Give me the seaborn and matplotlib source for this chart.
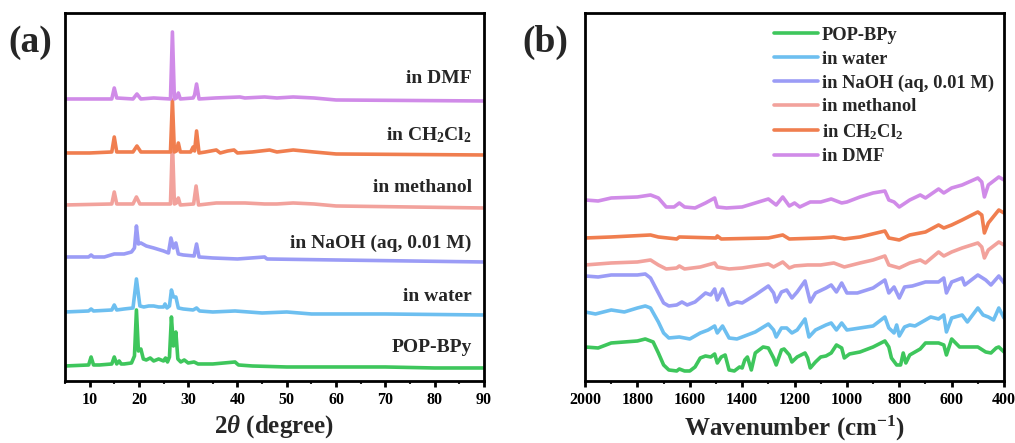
import matplotlib
matplotlib.use("Agg")
import matplotlib.pyplot as plt
from matplotlib.ticker import MultipleLocator
import seaborn as sns

# ---------------- data ----------------
names = ["POP-BPy", "in water", "in NaOH (aq, 0.01 M)", "in methanol",
         "in CH$\\mathregular{_2}$Cl$\\mathregular{_2}$", "in DMF"]
colors = ["#3ec65c", "#6dbff0", "#9b9cf6", "#f2a29c", "#f07e4f", "#d08be8"]

# (a) PXRD, 2theta (degree) / intensity (a.u., stacked)
xrd_pop_x = [5, 9.8, 10.3, 10.8, 12, 14.5, 15.0, 15.5, 16.0, 16.4, 17, 18.5, 19.1, 19.5, 19.9, 20.4, 20.9,
             21.5, 22.3, 23, 24, 25, 25.4, 25.8, 26.2, 26.6, 27.0, 27.5, 27.9, 28.5, 29.2, 30, 31.2, 32, 35,
             39.5, 40.2, 43, 50, 60, 70, 80, 90]
xrd_pop_y = [15, 16, 24, 16, 16, 17, 24, 17, 20, 17, 17, 18, 25, 71, 30, 32, 22,
             21, 23, 20, 22, 20, 23, 19, 24, 64, 35, 49, 22, 19, 21, 18, 19, 17, 17,
             19, 16, 15, 14, 14, 14, 13, 13]
xrd_water_x = [5, 9.8, 10.3, 10.8, 14.5, 15.0, 15.5, 17, 18.8, 19.5, 20.2, 21, 22, 23, 24, 25, 25.3, 25.7,
               26.2, 26.6, 27.0, 27.5, 28, 29, 31.0, 31.7, 32.3, 35, 39.5, 45, 50, 55, 70, 90]
xrd_water_y = [69, 70, 72, 70, 71, 76, 71, 72, 73, 102, 75, 74, 75, 75, 74, 74, 77, 73,
               75, 91, 84, 84, 73, 72, 71, 73, 70, 69, 70, 68, 69, 67, 67, 66]
xrd_naoh_x = [5, 9.8, 10.3, 10.8, 13, 15.0, 17, 18.5, 19.1, 19.5, 19.9, 20.4, 21.5, 23, 25, 26.0, 26.5,
              27.0, 27.5, 28.0, 29, 31.2, 31.7, 32.2, 35, 40, 45.5, 46, 60, 75, 90]
xrd_naoh_y = [124, 124, 126, 124, 124, 127, 127, 129, 133, 155, 137, 138, 135, 133, 130, 128, 143,
              133, 138, 127, 126, 125, 137, 124, 123, 122, 124, 122, 121, 120, 119]
xrd_meoh_x = [5, 14.5, 15.0, 15.5, 18.8, 19.5, 20.2, 23, 26.4, 26.8, 27.2, 27.6, 28.0, 28.4, 31.1, 31.6,
              32.1, 35.7, 40.5, 41.5, 45.5, 48, 51.3, 55.5, 60, 90]
xrd_meoh_y = [176, 177, 189, 177, 177, 184, 177, 177, 177, 240, 177, 178, 183, 176, 177, 195,
              176, 178, 178, 178, 177, 177, 178, 177, 175, 173]
xrd_dcm_x = [5, 10, 14.5, 15.0, 15.5, 18.8, 19.6, 20.4, 23, 26.4, 26.8, 27.2, 27.6, 28.0, 28.4, 30.5, 31.0,
             31.3, 31.7, 32.2, 33.5, 35.7, 36.5, 38, 39.3, 40, 43, 46.5, 48, 51.3, 55.5, 60, 90]
xrd_dcm_y = [228, 228, 229, 244, 229, 229, 235, 229, 229, 229, 281, 229, 230, 238, 229, 229, 234,
             230, 250, 228, 229, 231, 228, 230, 231, 228, 229, 231, 229, 231, 229, 227, 226]
xrd_dmf_x = [5, 14.5, 15.0, 15.5, 18.8, 19.6, 20.4, 23, 26.4, 26.8, 27.2, 27.6, 28.0, 28.4, 31.0, 31.3,
             31.7, 32.2, 35.5, 40.5, 41.5, 45.5, 48, 51.3, 55.5, 60, 90]
xrd_dmf_y = [282, 282, 293, 283, 282, 287, 282, 283, 282, 349, 282, 283, 288, 282, 283, 286,
             297, 282, 283, 284, 283, 284, 283, 284, 283, 281, 280]

# (b) FTIR, wavenumber (cm-1) / transmittance (a.u., stacked)
ir_pop_x = [2000, 1950, 1900, 1800, 1770, 1740, 1720, 1700, 1680, 1650, 1640, 1620, 1600, 1580, 1560, 1540,
            1520, 1505, 1495, 1480, 1465, 1450, 1430, 1410, 1400, 1390, 1380, 1365, 1350, 1320, 1300, 1280,
            1270, 1250, 1240, 1220, 1210, 1190, 1160, 1150, 1140, 1120, 1100, 1080, 1060, 1040, 1020, 1010,
            990, 950, 900, 855, 840, 830, 810, 795, 785, 775, 760, 720, 700, 650, 630, 620, 610, 600, 570,
            540, 500, 470, 450, 430, 420, 400]
ir_pop_y = [34, 33, 38, 40, 42, 39, 28, 16, 11, 10, 12, 10, 10, 14, 23, 25,
            24, 27, 18, 24, 26, 11, 10, 14, 13, 21, 24, 11, 28, 34, 33, 23,
            16, 31, 32, 26, 19, 24, 28, 23, 13, 19, 24, 25, 28, 36, 33, 23,
            27, 29, 34, 40, 34, 23, 16, 16, 28, 18, 26, 32, 38, 38, 36, 26, 34, 42, 34,
            34, 34, 29, 28, 33, 34, 29]
ir_water_x = [2000, 1960, 1900, 1850, 1800, 1770, 1750, 1720, 1700, 1680, 1640, 1620, 1600, 1560, 1530,
              1505, 1495, 1475, 1450, 1420, 1400, 1350, 1300, 1280, 1270, 1250, 1230, 1210, 1190, 1160,
              1145, 1120, 1080, 1060, 1040, 1020, 1000, 950, 900, 855, 840, 820, 810, 800, 780, 760, 740,
              700, 680, 650, 630, 620, 600, 560, 540, 500, 480, 460, 440, 420, 400]
ir_water_y = [69, 67, 71, 69, 73, 75, 73, 59, 48, 43, 44, 43, 42, 48, 51,
              55, 48, 55, 43, 42, 44, 49, 57, 51, 44, 53, 53, 48, 51, 62,
              44, 51, 56, 58, 51, 58, 51, 53, 55, 64, 53, 48, 56, 45, 54, 56, 55,
              61, 64, 62, 66, 49, 63, 66, 59, 73, 66, 64, 61, 73, 63]
ir_naoh_x = [2000, 1950, 1900, 1800, 1770, 1750, 1720, 1700, 1680, 1650, 1630, 1610, 1580, 1540, 1520,
             1505, 1495, 1475, 1450, 1420, 1400, 1350, 1300, 1280, 1270, 1250, 1230, 1210, 1190, 1160,
             1140, 1120, 1080, 1060, 1040, 1020, 1000, 960, 900, 855, 840, 820, 800, 780, 750, 700, 650,
             630, 620, 600, 560, 550, 500, 470, 450, 420, 400]
ir_naoh_y = [105, 104, 106, 106, 107, 103, 88, 78, 75, 76, 79, 76, 79, 88, 86,
             92, 81, 92, 76, 79, 78, 86, 95, 88, 79, 89, 91, 83, 89, 100,
             79, 88, 93, 96, 89, 98, 88, 88, 93, 101, 88, 94, 83, 94, 95, 99, 99,
             103, 88, 99, 103, 96, 106, 101, 96, 105, 98]
ir_meoh_x = [2000, 1900, 1800, 1750, 1720, 1690, 1650, 1640, 1620, 1560, 1505, 1495, 1450, 1400, 1300,
             1280, 1245, 1220, 1200, 1150, 1100, 1050, 1010, 950, 900, 855, 840, 800, 760, 720, 700, 650,
             630, 600, 560, 500, 485, 475, 460, 420, 400]
ir_meoh_y = [116, 118, 119, 121, 116, 112, 113, 115, 112, 114, 118, 114, 112, 113, 117,
             114, 119, 113, 115, 116, 116, 118, 114, 118, 121, 125, 116, 113, 118, 121, 118, 129,
             125, 129, 133, 138, 134, 123, 131, 139, 136]
ir_dcm_x = [2000, 1900, 1750, 1720, 1650, 1640, 1500, 1495, 1480, 1300, 1245, 1220, 1100, 1050, 1010,
            950, 855, 840, 800, 760, 700, 650, 630, 600, 560, 500, 485, 475, 460, 420, 400]
ir_dcm_y = [143, 144, 146, 144, 142, 144, 143, 145, 142, 143, 146, 142, 143, 144, 142,
            144, 150, 143, 141, 146, 149, 156, 153, 156, 161, 169, 166, 148, 158, 171, 168]
ir_dmf_x = [2000, 1950, 1900, 1800, 1750, 1720, 1690, 1660, 1640, 1620, 1580, 1540, 1505, 1495, 1460,
            1400, 1350, 1300, 1270, 1245, 1220, 1200, 1180, 1140, 1100, 1060, 1020, 1000, 950, 900, 855,
            840, 820, 800, 760, 720, 700, 650, 630, 600, 560, 500, 485, 475, 460, 420, 400]
ir_dmf_y = [181, 180, 183, 184, 186, 183, 174, 174, 178, 174, 173, 178, 183, 174, 173,
            174, 178, 182, 176, 184, 175, 178, 174, 179, 179, 182, 178, 179, 184, 188, 190,
            181, 179, 174, 181, 186, 183, 192, 188, 193, 196, 203, 199, 184, 196, 204, 201]

xrd = [(xrd_pop_x, xrd_pop_y), (xrd_water_x, xrd_water_y), (xrd_naoh_x, xrd_naoh_y),
       (xrd_meoh_x, xrd_meoh_y), (xrd_dcm_x, xrd_dcm_y), (xrd_dmf_x, xrd_dmf_y)]
ir = [(ir_pop_x, ir_pop_y), (ir_water_x, ir_water_y), (ir_naoh_x, ir_naoh_y),
      (ir_meoh_x, ir_meoh_y), (ir_dcm_x, ir_dcm_y), (ir_dmf_x, ir_dmf_y)]

xrd_ticks = [10, 20, 30, 40, 50, 60, 70, 80, 90]
ir_ticks = [2000, 1800, 1600, 1400, 1200, 1000, 800, 600, 400]

# label positions in panel (a): (2theta, intensity)
label_pos = [(87.5, 33), (87.5, 84), (87.5, 138), (87.5, 193), (87.5, 246), (87.5, 302)]

# ---------------- style ----------------
sns.set_theme(style="ticks")
plt.rcParams["font.family"] = ["Liberation Serif", "DejaVu Serif"]
plt.rcParams["font.weight"] = "bold"
plt.rcParams["axes.labelweight"] = "bold"
plt.rcParams["mathtext.fontset"] = "custom"
plt.rcParams["mathtext.rm"] = "Liberation Serif:bold"
plt.rcParams["mathtext.it"] = "Liberation Serif:italic:bold"
plt.rcParams["mathtext.bf"] = "Liberation Serif:bold"

fig = plt.figure(figsize=(10.15, 4.43), dpi=100)
ax1 = fig.add_axes([0.064, 0.140, 0.4128, 0.8307])
ax2 = fig.add_axes([0.5764, 0.140, 0.4128, 0.8307])

for ax in (ax1, ax2):
    for sp in ax.spines.values():
        sp.set_linewidth(2.0)
        sp.set_color("black")
    ax.tick_params(axis="x", which="major", direction="out", length=4, width=2,
                   labelsize=11.5, pad=4, colors="black")
    ax.tick_params(axis="x", which="minor", direction="out", length=2.5, width=1.5)
    ax.tick_params(axis="y", left=False, labelleft=False)
    ax.set_ylim(0, 368)

# ---- (a) XRD ----
for (xs, ys), c in zip(xrd, colors):
    sns.lineplot(x=xs, y=ys, ax=ax1, color=c, lw=2.6, sort=False, estimator=None)
for (tx, ty), n in zip(label_pos, names):
    ax1.text(tx, ty, n, ha="right", va="center", fontsize=14, fontweight="bold")
ax1.set_xlim(5, 90)
ax1.set_xticks(xrd_ticks)
ax1.set_xticklabels([str(t) for t in xrd_ticks], fontweight="bold")
ax1.xaxis.set_minor_locator(MultipleLocator(5))
ax1.set_xlabel("2$\\theta$ (degree)", fontsize=18, fontweight="bold", labelpad=4)
ax1.set_ylabel("Intensity (a.u.)", fontsize=18, fontweight="bold", labelpad=6)

# ---- (b) FTIR ----
for (xs, ys), c, n in zip(ir, colors, names):
    sns.lineplot(x=xs, y=ys, ax=ax2, color=c, lw=2.6, sort=False, estimator=None, label=n)
ax2.set_xlim(2000, 400)
ax2.set_xticks(ir_ticks)
ax2.set_xticklabels([str(t) for t in ir_ticks], fontweight="bold")
ax2.xaxis.set_minor_locator(MultipleLocator(100))
ax2.set_xlabel("Wavenumber (cm$\\mathregular{^{-1}}$)", fontsize=18, fontweight="bold", labelpad=4)
ax2.set_ylabel("Transmittance (a.u.)", fontsize=18, fontweight="bold", labelpad=6)
ax2.legend(loc="upper left", bbox_to_anchor=(0.45, 0.962), frameon=False,
           prop={"family": "Liberation Serif", "weight": "bold", "size": 13.3},
           handlelength=2.4, handletextpad=0.2, labelspacing=0.36, borderpad=0, borderaxespad=0)

fig.text(0.008, 0.905, "(a)", fontsize=27, fontweight="bold", ha="left", va="center")
fig.text(0.515, 0.905, "(b)", fontsize=27, fontweight="bold", ha="left", va="center")

fig.savefig("out.png", dpi=100)
